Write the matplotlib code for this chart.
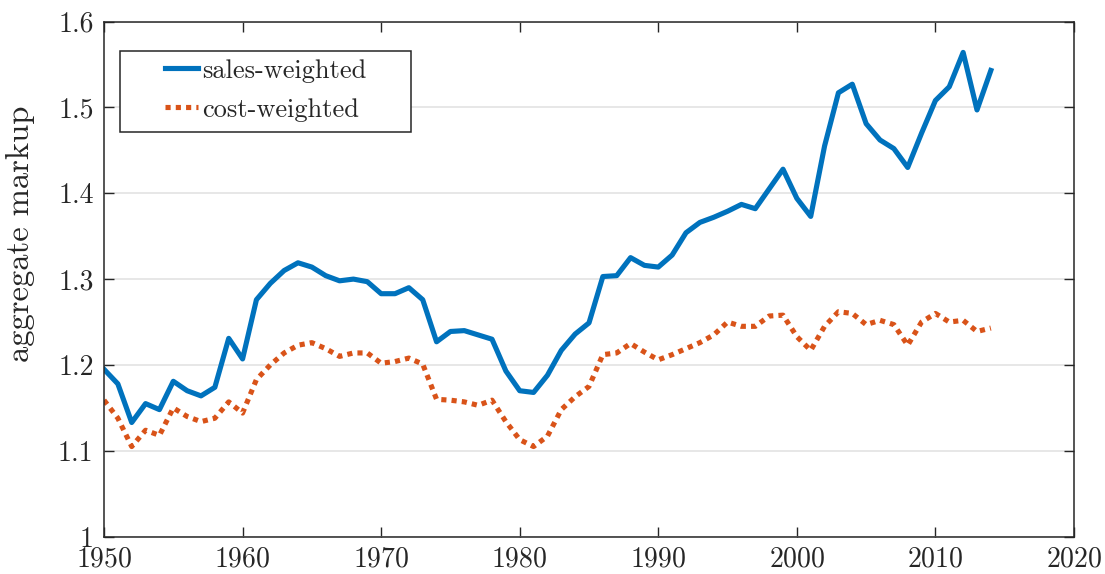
import numpy as np
import matplotlib
matplotlib.use('Agg')
import matplotlib.pyplot as plt
from matplotlib.patches import Rectangle

years = np.arange(1950, 2015)

sales_weighted = [
    1.195, 1.178, 1.133, 1.155, 1.148, 1.181, 1.170, 1.164, 1.174, 1.231,
    1.207, 1.276, 1.295, 1.310, 1.319, 1.314, 1.304, 1.298, 1.300, 1.297,
    1.283, 1.283, 1.290, 1.276, 1.227, 1.239, 1.240, 1.235, 1.230, 1.193,
    1.170, 1.168, 1.188, 1.217, 1.236, 1.249, 1.303, 1.304, 1.325, 1.316,
    1.314, 1.328, 1.354, 1.366, 1.372, 1.379, 1.387, 1.382, 1.405, 1.428,
    1.394, 1.373, 1.455, 1.517, 1.527, 1.481, 1.462, 1.452, 1.430, 1.470,
    1.508, 1.524, 1.564, 1.497, 1.543,
]

cost_weighted = [
    1.159, 1.138, 1.105, 1.124, 1.118, 1.150, 1.140, 1.134, 1.138, 1.157,
    1.144, 1.183, 1.200, 1.214, 1.223, 1.226, 1.219, 1.210, 1.214, 1.214,
    1.202, 1.204, 1.208, 1.201, 1.160, 1.159, 1.157, 1.153, 1.159, 1.134,
    1.113, 1.105, 1.117, 1.148, 1.163, 1.175, 1.212, 1.214, 1.225, 1.215,
    1.206, 1.212, 1.219, 1.226, 1.235, 1.250, 1.245, 1.245, 1.257, 1.258,
    1.233, 1.217, 1.245, 1.262, 1.260, 1.247, 1.252, 1.247, 1.223, 1.250,
    1.260, 1.250, 1.252, 1.239, 1.243,
]

labels = ['sales-weighted', 'cost-weighted']

plt.rcParams['font.family'] = 'serif'
plt.rcParams['font.serif'] = ['cmr10']
plt.rcParams['mathtext.fontset'] = 'cm'
plt.rcParams['axes.formatter.use_mathtext'] = True

W, H = 1105, 574
fig = plt.figure(figsize=(W / 100, H / 100), dpi=100)
ax = fig.add_axes([104 / W, 1 - 536.7 / H, 970 / W, 515.2 / H])

ax.plot(years, sales_weighted, color='#0072BD', lw=3.7, label=labels[0])
ax.plot(years, cost_weighted, color='#D95319', lw=3.7,
        linestyle=(0, (1, 1)), dash_capstyle='butt', label=labels[1])

ax.set_xlim(1950, 2020)
ax.set_ylim(1.0, 1.6)
ax.set_xticks(np.arange(1950, 2021, 10))
ax.set_yticks(np.arange(1.0, 1.61, 0.1))
ax.set_yticklabels(['1', '1.1', '1.2', '1.3', '1.4', '1.5', '1.6'])

ax.yaxis.grid(True, color='#e3e3e3', lw=1.2)
ax.set_axisbelow(True)
ax.tick_params(direction='in', length=7, width=1, top=True, right=True,
               labelsize=20, colors='#262626')
ax.tick_params(axis='y', pad=7.5)
ax.tick_params(axis='x', pad=7)
for s in ax.spines.values():
    s.set_linewidth(1.1)
    s.set_color('#262626')

ax.set_ylabel('aggregate markup', fontsize=23.5, color='#262626')
ax.yaxis.set_label_coords(-0.0711, 0.5875)

# legend box drawn separately so the padding matches
def ax_x(px):
    return (px - 104) / 970

def ax_y(py):
    return (536.7 - py) / 515.2

ax.add_patch(Rectangle((ax_x(120), ax_y(132)), ax_x(411) - ax_x(120),
                       ax_y(51) - ax_y(132), transform=ax.transAxes,
                       facecolor='white', edgecolor='#262626', lw=1.1,
                       zorder=5))
leg = ax.legend(loc='upper left', bbox_to_anchor=(ax_x(165), ax_y(59)),
                borderaxespad=0, borderpad=0, fontsize=19, frameon=False,
                handlelength=1.25, handletextpad=0.15, labelspacing=0.57)
leg.set_zorder(6)
for t in leg.get_texts():
    t.set_color('#262626')

fig.savefig('out.png', dpi=100)
